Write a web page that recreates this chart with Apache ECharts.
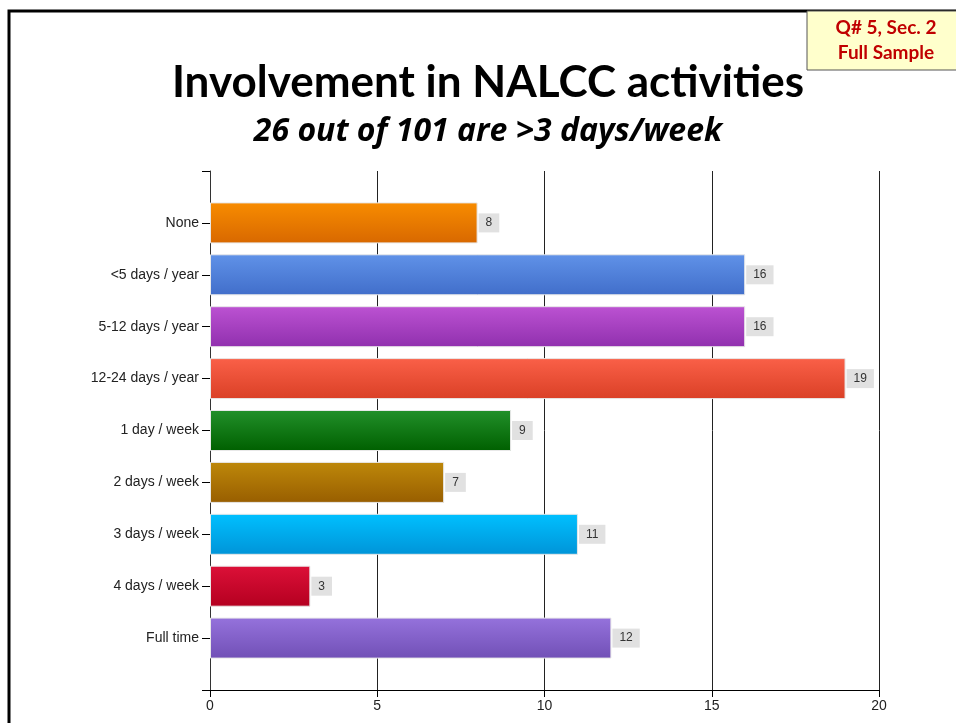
<!DOCTYPE html>
<html>
<head>
<meta charset="utf-8">
<script src="https://cdn.jsdelivr.net/npm/echarts@6/dist/echarts.min.js"></script>
<style>
  html, body { margin: 0; padding: 0; background: #fff; }
  #myChart { width: 956px; height: 723px; }
</style>
</head>
<body>
<div id="myChart"></div>
<script>
// categories (top to bottom) and counts
var categories = ['None', '<5 days / year', '5-12 days / year', '12-24 days / year',
  '1 day / week', '2 days / week', '3 days / week', '4 days / week', 'Full time'];
var counts = [8, 16, 16, 19, 9, 7, 11, 3, 12];
var xTicks = [0, 5, 10, 15, 20];

// bar gradient colours, top / bottom
var barTop = ['#F88C00', '#6092E8', '#BC52D2', '#FA6048', '#22902A', '#BE880A', '#00C0FF', '#DC1038', '#9572DC'];
var barBottom = ['#D86800', '#416ECA', '#9030AE', '#DA4026', '#006000', '#985E00', '#0094D8', '#B40020', '#7150B6'];

var myChart = echarts.init(document.getElementById('myChart'));

// pad with empty slots so the bands sit like the original
var yData = [''].concat(categories).concat(['']);
var barData = [null];
for (var i = 0; i < counts.length; i++) {
  barData.push({
    value: counts[i],
    itemStyle: {
      color: new echarts.graphic.LinearGradient(0, 0, 0, 1, [
        { offset: 0, color: barTop[i] },
        { offset: 1, color: barBottom[i] }
      ])
    }
  });
}
barData.push(null);

myChart.setOption({
  animation: false,
  title: [
    {
      text: 'Involvement in NALCC activities',
      left: 483, top: 56, textAlign: 'center',
      textStyle: { fontFamily: 'Lato', fontWeight: 'bold', fontSize: 44, color: '#000' }
    },
    {
      text: '26 out of 101 are >3 days/week',
      left: 483, top: 111, textAlign: 'center',
      textStyle: { fontFamily: 'Open Sans', fontWeight: 'bold', fontStyle: 'italic', fontSize: 32, color: '#000' }
    }
  ],
  graphic: [
    {
      type: 'rect', shape: { x: 9, y: 11, width: 1000, height: 800 },
      style: { fill: 'none', stroke: '#000', lineWidth: 3 }, z: 10
    },
    {
      type: 'rect', shape: { x: 807, y: 11, width: 160, height: 59 },
      style: { fill: '#FFFFCC', stroke: '#555', lineWidth: 1 }, z: 11
    },
    {
      type: 'text', x: 886, y: 15, z: 12,
      style: {
        text: 'Q# 5, Sec. 2\nFull Sample', align: 'center', lineHeight: 25,
        font: 'bold 19px Lato', fill: '#C00000'
      }
    }
  ],
  grid: { left: 210, top: 171, right: 77, bottom: 33 },
  xAxis: {
    type: 'value', min: 0, max: 20, interval: 5,
    axisLine: { show: true, lineStyle: { color: '#000', width: 1 } },
    axisTick: { show: true, length: 7, lineStyle: { color: '#000' } },
    axisLabel: {
      margin: 9, fontFamily: 'Liberation Sans', fontSize: 14, color: '#222',
      formatter: function (v) { return xTicks.indexOf(v) >= 0 ? String(v) : ''; }
    },
    splitLine: { show: true, lineStyle: { color: '#222', width: 1 } }
  },
  yAxis: {
    type: 'category', inverse: true, boundaryGap: false, data: yData,
    axisLine: { show: true, lineStyle: { color: '#333', width: 1 } },
    axisTick: { show: true, length: 8, lineStyle: { color: '#000' } },
    axisLabel: { margin: 11, fontFamily: 'Liberation Sans', fontSize: 14, color: '#222' },
    splitLine: { show: false }
  },
  series: [{
    type: 'bar',
    barWidth: 41,
    data: barData,
    itemStyle: { borderColor: '#E8E8E8', borderWidth: 1 },
    label: {
      show: true, position: 'right', distance: 1,
      backgroundColor: '#E1E1E1', padding: [4, 7, 3, 7],
      fontFamily: 'Liberation Sans', fontSize: 12, color: '#333'
    }
  }]
});
</script>
</body>
</html>
